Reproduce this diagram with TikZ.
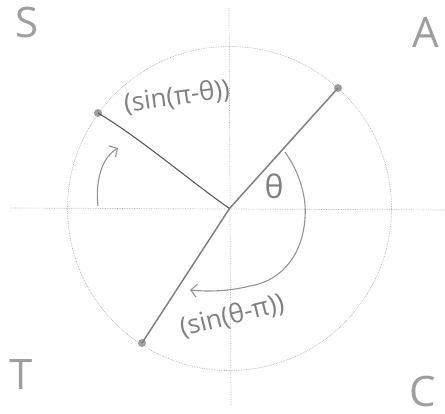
\documentclass[tikz,border=0pt]{standalone}
\usepackage{fontspec}
\setmainfont{Open Sans}
\usetikzlibrary{arrows.meta}
\definecolor{pencil}{gray}{0.5}
\definecolor{lightpencil}{gray}{0.62}
\begin{document}
\begin{tikzpicture}[x=1pt,y=1pt,
  axis/.style={draw=gray!60, densely dotted, line width=0.7pt},
  ring/.style={draw=gray!60, densely dotted, line width=0.7pt},
  ray/.style={draw=pencil, line width=1.5pt},
  darkray/.style={draw=gray!70!black, line width=1.1pt},
  dot/.style={circle, fill=gray!75, inner sep=0pt, minimum size=8pt},
  quad/.style={text=lightpencil, font=\fontsize{42}{42}\selectfont, inner sep=0pt},
  lab/.style={text=pencil, font=\fontsize{26}{26}\selectfont, inner sep=0pt},
  pen/.style={draw=pencil!85, line width=1.1pt},
  barb/.style={-{Straight Barb[length=6pt,width=13pt]}}
]
\useasboundingbox (0,0) rectangle (445,413);
% axes
\coordinate (O) at (229.5,204.5);
\coordinate (xl) at (10,205);
\coordinate (xr) at (445,203);
\coordinate (yt) at (229,405);
\coordinate (yb) at (231,8);
\draw[axis] (xl) -- (xr);
\draw[axis] (yb) -- (yt);
% unit circle
\draw[ring] (O) circle (162);
% quadrant letters
\node[quad] (S) at (27,390) {S};
\node[quad] (A) at (426,381) {A};
\node[quad] (T) at (21,38) {T};
\node[quad] (C) at (423,22) {C};
% points
\node[dot] (PA) at (338,325) {};
\node[dot] (PS) at (98,300) {};
\node[dot] (PT) at (142,70) {};
% rays
\draw[ray] (PA.center) -- (O) -- (PT.center);
\draw[darkray] (O) .. controls (190,232) and (140,275) .. (PS.center);
% angle theta arc with arrow
\coordinate (th1) at (285,261);
\coordinate (th2) at (305,195);
\coordinate (th3) at (250,127);
\coordinate (th4) at (190,123);
\draw[pen, barb] (th1) .. controls (298,243) and (307,218) .. (th2)
  .. controls (303,162) and (285,133) .. (th3)
  .. controls (230,122) and (210,121) .. (th4);
% small arrow on the left
\coordinate (sa1) at (98,207);
\coordinate (sa2) at (118,265);
\draw[pen, barb] (sa1) .. controls (95,235) and (103,256) .. (sa2);
% labels
\node[lab, font=\fontsize{32}{32}\selectfont] (theta) at (274,227) {θ};
\node[lab, rotate=8] (ltop) at (177,316) {(sin(π-θ))};
\node[lab, rotate=14] (lbot) at (232,97) {(sin(θ-π))};
\end{tikzpicture}
\end{document}
